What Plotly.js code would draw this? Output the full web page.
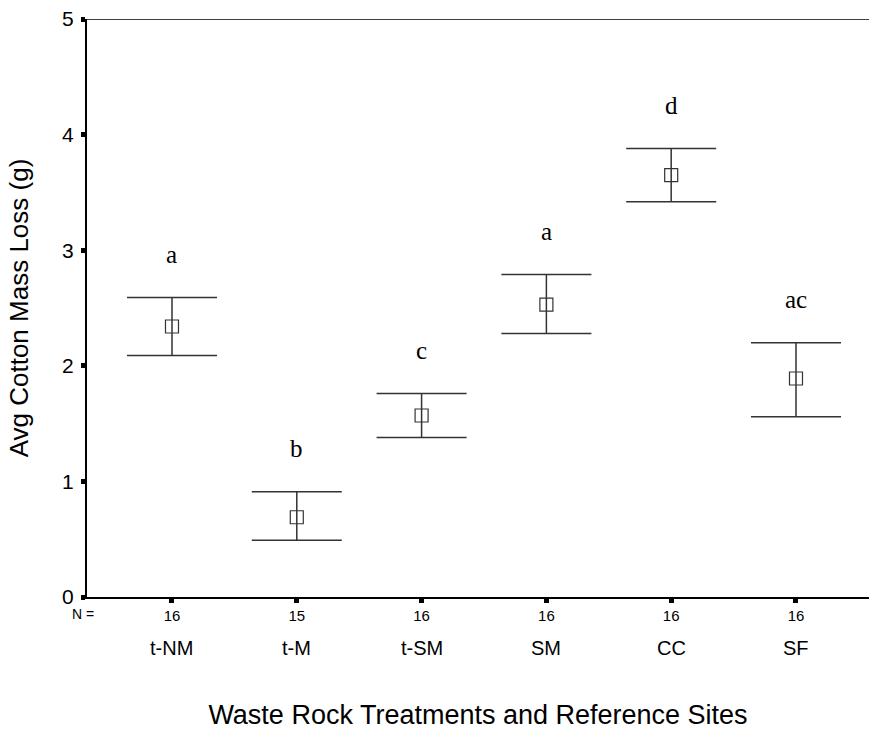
<!DOCTYPE html>
<html>
<head>
<meta charset="utf-8">
<script src="https://cdn.plot.ly/plotly-3.0.1.min.js"></script>
<style>html,body{margin:0;padding:0;background:#fff;}#chart{width:869px;height:730px;}</style>
</head>
<body>
<div id="chart"></div>
<script>
// Data
var categories = ["t-NM", "t-M", "t-SM", "SM", "CC", "SF"];
var counts = [16, 15, 16, 16, 16, 16];
var means = [2.34, 0.69, 1.57, 2.53, 3.65, 1.89];
var upper = [2.59, 0.91, 1.76, 2.79, 3.88, 2.20];
var lower = [2.09, 0.49, 1.38, 2.28, 3.42, 1.56];
var letters = ["a", "b", "c", "a", "d", "ac"];
var yTicks = [0, 1, 2, 3, 4, 5];

var xIdx = categories.map(function (c, i) { return i; });
var errPlus = upper.map(function (u, i) { return u - means[i]; });
var errMinus = lower.map(function (l, i) { return means[i] - l; });

var trace = {
  type: "scatter",
  mode: "markers",
  x: xIdx,
  y: means,
  marker: { symbol: "square-open", size: 13, color: "#333", line: { width: 1.2, color: "#333" } },
  error_y: {
    type: "data", symmetric: false,
    array: errPlus, arrayminus: errMinus,
    width: 45, thickness: 1.5, color: "#333"
  },
  hoverinfo: "skip",
  showlegend: false
};

var annotations = [];
// significance letters
letters.forEach(function (t, i) {
  annotations.push({
    xref: "x", yref: "y", x: xIdx[i], y: upper[i], text: t, showarrow: false,
    yshift: 43, yanchor: "middle",
    font: { family: "Liberation Serif, Times New Roman, serif", size: 25, color: "#000" }
  });
});
// category names below N row
categories.forEach(function (c, i) {
  annotations.push({
    xref: "x", yref: "paper", x: xIdx[i], y: 0, text: c, showarrow: false,
    yshift: -51, yanchor: "middle",
    font: { family: "Liberation Sans, Arial, sans-serif", size: 20, color: "#000" }
  });
});
annotations.push({
  xref: "paper", yref: "paper", x: 0, y: 0, text: "N =", showarrow: false,
  xshift: -17, yshift: -17, yanchor: "middle",
  font: { family: "Liberation Sans, Arial, sans-serif", size: 14, color: "#000" }
});

var layout = {
  width: 869, height: 730,
  margin: { l: 87, r: 0, t: 19, b: 133 },
  paper_bgcolor: "#fff", plot_bgcolor: "#fff",
  font: { family: "Liberation Sans, Arial, sans-serif", color: "#000" },
  xaxis: {
    range: [-0.681, 5.585],
    tickmode: "array", tickvals: xIdx, ticktext: counts.map(String),
    ticks: "outside", ticklen: 4, tickwidth: 5, tickcolor: "#000",
    tickfont: { size: 15, color: "#000" },
    showline: true, linecolor: "#000", linewidth: 2,
    showgrid: false, zeroline: false,
    title: { text: "Waste Rock Treatments and Reference Sites", font: { size: 27, color: "#000" }, standoff: 88 }
  },
  yaxis: {
    range: [0, 5],
    tickmode: "array", tickvals: yTicks,
    ticks: "outside", ticklen: 4, tickwidth: 5, tickcolor: "#000",
    tickfont: { size: 21, color: "#000" },
    ticklabelstandoff: 3,
    showline: true, linecolor: "#000", linewidth: 2,
    showgrid: false, zeroline: false,
    title: { text: "Avg Cotton Mass Loss (g)", font: { size: 26, color: "#000" }, standoff: 26 }
  },
  shapes: [{
    type: "line", xref: "paper", yref: "y", x0: 0, x1: 1, y0: 5, y1: 5,
    line: { color: "#000", width: 1.5 }
  }],
  annotations: annotations
};

Plotly.newPlot("chart", [trace], layout, { staticPlot: true, displayModeBar: false });
</script>
</body>
</html>
